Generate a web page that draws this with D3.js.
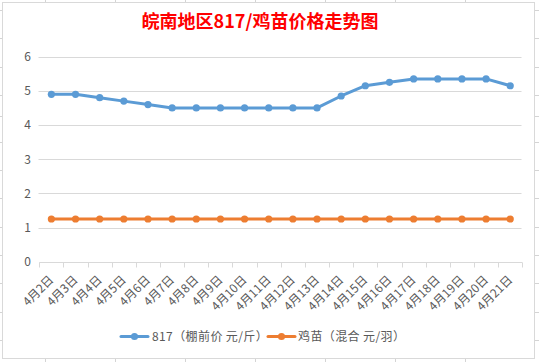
<!DOCTYPE html>
<html><head><meta charset="utf-8">
<script src="https://cdn.jsdelivr.net/npm/d3@7/dist/d3.min.js"></script>
<style>
html,body{margin:0;padding:0;background:#fff;}
svg{display:block;}
text{font-family:"Noto Sans CJK SC","Noto Sans",sans-serif;}
</style></head>
<body>
<svg id="c" width="539" height="362"></svg>
<script>
const categories = ["4月2日","4月3日","4月4日","4月5日","4月6日","4月7日","4月8日","4月9日","4月10日","4月11日","4月12日","4月13日","4月14日","4月15日","4月16日","4月17日","4月18日","4月19日","4月20日","4月21日"];
const series817 = [4.9,4.9,4.8,4.7,4.6,4.5,4.5,4.5,4.5,4.5,4.5,4.5,4.85,5.15,5.25,5.35,5.35,5.35,5.35,5.15];
const seriesChick = [1.25,1.25,1.25,1.25,1.25,1.25,1.25,1.25,1.25,1.25,1.25,1.25,1.25,1.25,1.25,1.25,1.25,1.25,1.25,1.25];
const yTicks = [0,1,2,3,4,5,6];
const seriesNames = ["817（棚前价 元/斤）","鸡苗（混合 元/羽）"];
const seriesColors = ["#5b9bd5","#ed7d31"];
const title = "皖南地区817/鸡苗价格走势图";

const svg = d3.select("#c");
const W = 539, H = 362;

// spreadsheet background gridlines
const bg = svg.append("g");
[45,115,185,255,325,395,465].forEach(x=>{
  bg.append("line").attr("x1",x+0.5).attr("x2",x+0.5).attr("y1",0).attr("y2",H).attr("stroke","#d4d4d4");
});
[10,38,67,95,116,142,170,198,227,255,283,312,340].forEach(y=>{
  bg.append("line").attr("x1",0).attr("x2",W).attr("y1",y+0.5).attr("y2",y+0.5).attr("stroke","#d4d4d4");
});
// chart area
svg.append("rect").attr("x",2.5).attr("y",2.5).attr("width",532).attr("height",356)
  .attr("fill","#fff").attr("stroke","#d9d9d9");

const x = d3.scaleBand().domain(categories).range([39.3,522.3]);
const y = d3.scaleLinear().domain([0,6]).range([261.7,56.7]);

// gridlines
svg.append("g").selectAll("line").data(yTicks.filter(d=>d>0)).join("line")
  .attr("x1",38.5).attr("x2",521.5)
  .attr("y1",d=>Math.round(y(d))+0.5).attr("y2",d=>Math.round(y(d))+0.5)
  .attr("stroke","#d9d9d9").attr("stroke-width",1);

// y axis labels
const yAxis = d3.axisLeft(y).tickValues(yTicks).tickSize(0).tickPadding(0).tickFormat(d3.format("d"));
const gy = svg.append("g").attr("transform","translate(31,0)").call(yAxis);
gy.select(".domain").remove();
gy.selectAll("text").attr("fill","#595959").style("font-size","12px").attr("font-family","'Noto Sans','Noto Sans CJK SC',sans-serif");

// x axis
const xAxis = d3.axisBottom(x).tickSize(0).tickPadding(0);
const gx = svg.append("g").attr("transform",`translate(0,${Math.round(y(0))+0.5})`).call(xAxis);
gx.select(".domain").attr("stroke","#d9d9d9").attr("d",`M${x.range()[0]},0H${x.range()[1]}`);
// tick marks at category boundaries
const bounds = categories.map(c=>x(c)).concat([x.range()[1]]);
gx.selectAll(".bt").data(bounds).join("line").attr("class","bt")
  .attr("x1",d=>Math.round(d)+0.5).attr("x2",d=>Math.round(d)+0.5).attr("y1",0).attr("y2",5)
  .attr("stroke","#d9d9d9");
gx.selectAll(".tick text")
  .attr("fill","#595959").style("font-size","12px")
  .attr("text-anchor","end")
  .attr("dy","0.35em")
  .attr("transform","translate(0,15) rotate(-45)");

// lines
const line = d3.line().x((d,i)=>x(categories[i])+x.bandwidth()/2).y(d=>y(d));
[series817, seriesChick].forEach((s,k)=>{
  svg.append("path").datum(s).attr("d",line).attr("fill","none")
    .attr("stroke",seriesColors[k]).attr("stroke-width",3).attr("stroke-linejoin","round").attr("stroke-linecap","round");
  svg.append("g").selectAll("circle").data(s).join("circle")
    .attr("cx",(d,i)=>x(categories[i])+x.bandwidth()/2).attr("cy",d=>y(d)).attr("r",3.6)
    .attr("fill",seriesColors[k]);
});

// title
svg.append("text").attr("x",260).attr("y",22).attr("dy","0.35em").attr("text-anchor","middle")
  .attr("fill","#ff0000").style("font-size","18px").style("font-weight","bold").text(title);

// legend
const leg = svg.append("g");
const legItems = [{x0:121, tx:152},{x0:268, tx:298}];
legItems.forEach((p,k)=>{
  const ly = 336.5;
  leg.append("line").attr("x1",p.x0).attr("x2",p.x0+27).attr("y1",ly).attr("y2",ly)
    .attr("stroke",seriesColors[k]).attr("stroke-width",3).attr("stroke-linecap","round");
  leg.append("circle").attr("cx",p.x0+13.5).attr("cy",ly).attr("r",3.6).attr("fill",seriesColors[k]);
  leg.append("text").attr("x",p.tx).attr("y",ly).attr("dy","0.35em").attr("fill","#595959")
    .style("font-size","12px").style("letter-spacing","0.4px").text(seriesNames[k]);
});
</script>
</body></html>
